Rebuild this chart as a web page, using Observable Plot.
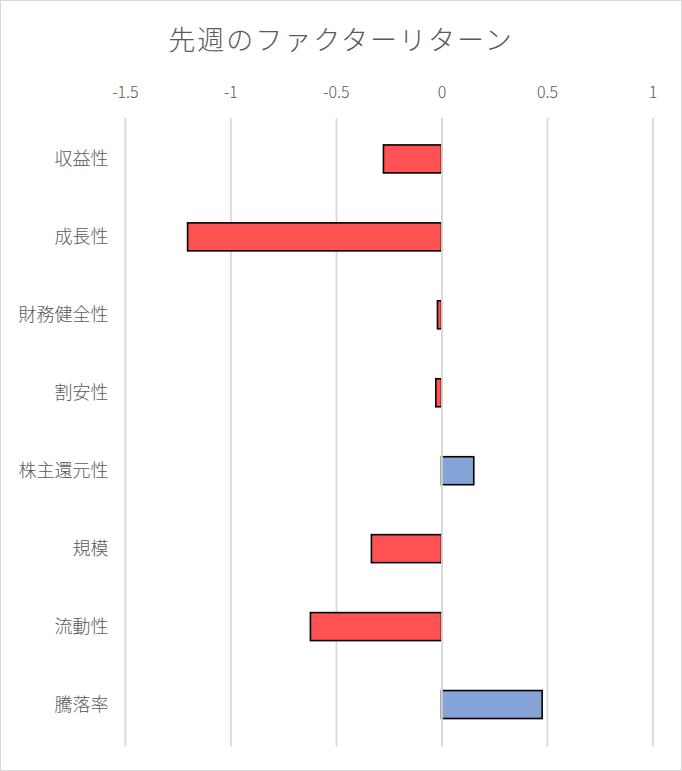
<!DOCTYPE html>
<html>
<head>
<meta charset="utf-8">
<script src="https://cdn.jsdelivr.net/npm/d3@7"></script>
<script src="https://cdn.jsdelivr.net/npm/@observablehq/plot@0.6"></script>
<style>
  html, body { margin: 0; padding: 0; background: #fff; }
  #chart {
    position: relative; width: 682px; height: 771px; box-sizing: border-box;
    border: 1.5px solid #d9d9d9; background: #fff; overflow: hidden;
    font-family: "Noto Sans CJK JP", "Noto Sans", sans-serif;
  }
  #title {
    position: absolute; top: 18px; left: 0; width: 100%; text-align: center;
    font-size: 27px; font-weight: 300; color: #595959; letter-spacing: 2px;
  }
  #plot { position: absolute; top: 70px; left: -1.5px; }
</style>
</head>
<body>
<div id="chart">
  <div id="title">先週のファクターリターン</div>
  <div id="plot"></div>
</div>
<script>
const factors = ["収益性", "成長性", "財務健全性", "割安性", "株主還元性", "規模", "流動性", "騰落率"];
const returns = [-0.275, -1.203, -0.019, -0.027, 0.153, -0.332, -0.621, 0.477];
const xTicks = [-1.5, -1, -0.5, 0, 0.5, 1];

const data = factors.map((f, i) => ({factor: f, value: returns[i]}));

const chart = Plot.plot({
  width: 682,
  height: 701,
  marginTop: 47,
  marginBottom: 25,
  marginLeft: 125,
  marginRight: 29,
  style: {fontFamily: '"Noto Sans CJK JP", "Noto Sans", sans-serif', background: "transparent"},
  x: {domain: [-1.5, 1], axis: null, label: null},
  y: {domain: factors, paddingInner: 0.64, paddingOuter: 0.32, axis: null, label: null},
  marks: [
    Plot.ruleX(xTicks, {x: d => d, stroke: "#d9d9d9", strokeWidth: 1.8, strokeOpacity: 1}),
    Plot.axisX(xTicks, {anchor: "top", tickSize: 0, tickPadding: 20, fontSize: 16, fill: "#595959",
      fontWeight: 300, label: null, tickFormat: d => String(d)}),
    Plot.axisY({anchor: "left", tickSize: 0, tickPadding: 17, fontSize: 18, fill: "#595959",
      fontWeight: 300, label: null}),
    Plot.barX(data, {
      x: "value", y: "factor",
      fill: d => d.value < 0 ? "#ff4b4b" : "#7f9fd5",
      fillOpacity: 0.96,
      stroke: "#000", strokeWidth: 1.6
    }),
    Plot.ruleX([0], {stroke: "#d9d9d9", strokeWidth: 1.8, strokeOpacity: 1})
  ]
});
document.getElementById("plot").appendChild(chart);
</script>
</body>
</html>
